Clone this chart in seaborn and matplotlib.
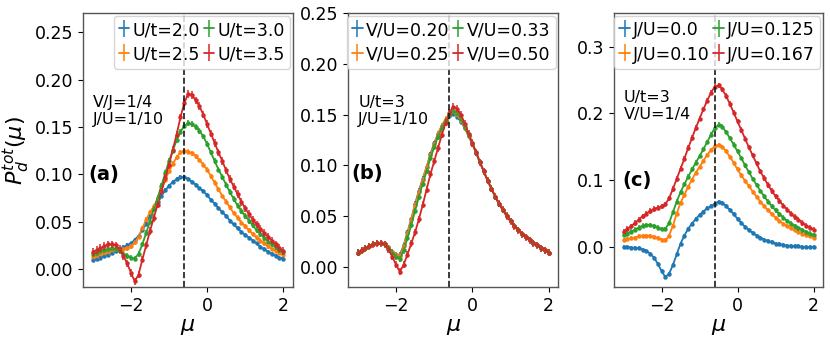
import numpy as np
import pandas as pd
import matplotlib
matplotlib.use("Agg")
import matplotlib.pyplot as plt
import seaborn as sns
from matplotlib.lines import Line2D
from matplotlib.legend_handler import HandlerTuple

# ---------------- data ----------------
mu = np.round(np.arange(-3.0, 2.0001, 0.1), 1)

# panel (a): V/J=1/4, J/U=1/10
labels_a = ["U/t=2.0", "U/t=2.5", "U/t=3.0", "U/t=3.5"]
a_u20 = [0.010, 0.011, 0.012, 0.014, 0.015, 0.017, 0.019, 0.021, 0.023, 0.025,
         0.027, 0.031, 0.035, 0.041, 0.048, 0.056, 0.064, 0.071, 0.077, 0.083,
         0.088, 0.092, 0.095, 0.097, 0.097, 0.095, 0.092, 0.089, 0.085, 0.082,
         0.078, 0.073, 0.069, 0.064, 0.060, 0.056, 0.051, 0.047, 0.043, 0.039,
         0.036, 0.033, 0.030, 0.027, 0.023, 0.021, 0.018, 0.016, 0.014, 0.012, 0.011]
a_u25 = [0.013, 0.014, 0.016, 0.017, 0.018, 0.020, 0.021, 0.021, 0.021, 0.022,
         0.024, 0.028, 0.034, 0.043, 0.052, 0.060, 0.066, 0.074, 0.083, 0.094,
         0.103, 0.111, 0.118, 0.123, 0.125, 0.124, 0.122, 0.119, 0.115, 0.110,
         0.105, 0.098, 0.091, 0.084, 0.077, 0.071, 0.065, 0.059, 0.054, 0.049,
         0.045, 0.041, 0.037, 0.033, 0.030, 0.027, 0.024, 0.021, 0.019, 0.017, 0.015]
a_u30 = [0.016, 0.017, 0.019, 0.020, 0.021, 0.022, 0.021, 0.019, 0.016, 0.014,
         0.012, 0.011, 0.016, 0.026, 0.038, 0.050, 0.063, 0.075, 0.088, 0.101,
         0.114, 0.125, 0.136, 0.145, 0.151, 0.154, 0.153, 0.150, 0.146, 0.140,
         0.132, 0.123, 0.114, 0.105, 0.097, 0.089, 0.081, 0.074, 0.067, 0.061,
         0.056, 0.051, 0.046, 0.041, 0.037, 0.033, 0.029, 0.026, 0.023, 0.020, 0.018]
a_u35 = [0.018, 0.020, 0.022, 0.024, 0.026, 0.026, 0.025, 0.021, 0.014, 0.006,
         -0.004, -0.013, -0.006, 0.010, 0.025, 0.040, 0.054, 0.068, 0.082, 0.096,
         0.110, 0.126, 0.142, 0.160, 0.175, 0.185, 0.184, 0.178, 0.172, 0.163,
         0.153, 0.143, 0.133, 0.123, 0.114, 0.104, 0.095, 0.087, 0.079, 0.071,
         0.064, 0.058, 0.052, 0.047, 0.042, 0.038, 0.034, 0.030, 0.026, 0.022, 0.019]
err_a = [0.002, 0.0025, 0.003, 0.004]

# panel (b): U/t=3, J/U=1/10
labels_b = ["V/U=0.20", "V/U=0.25", "V/U=0.33", "V/U=0.50"]
b_v20 = [0.014, 0.016, 0.018, 0.020, 0.022, 0.023, 0.023, 0.022, 0.019, 0.015,
         0.012, 0.012, 0.021, 0.034, 0.047, 0.062, 0.075, 0.087, 0.098, 0.111,
         0.122, 0.131, 0.139, 0.145, 0.149, 0.151, 0.148, 0.143, 0.137, 0.129,
         0.121, 0.112, 0.103, 0.094, 0.085, 0.077, 0.069, 0.062, 0.056, 0.050,
         0.045, 0.040, 0.036, 0.032, 0.029, 0.026, 0.023, 0.021, 0.018, 0.016, 0.014]
b_v25 = [0.014, 0.016, 0.018, 0.020, 0.022, 0.023, 0.023, 0.022, 0.019, 0.015,
         0.012, 0.011, 0.020, 0.033, 0.047, 0.061, 0.074, 0.086, 0.098, 0.110,
         0.121, 0.131, 0.139, 0.146, 0.150, 0.153, 0.150, 0.144, 0.137, 0.129,
         0.121, 0.112, 0.103, 0.094, 0.085, 0.077, 0.069, 0.062, 0.056, 0.050,
         0.045, 0.040, 0.036, 0.032, 0.029, 0.026, 0.023, 0.021, 0.018, 0.016, 0.014]
b_v33 = [0.014, 0.016, 0.018, 0.020, 0.022, 0.023, 0.023, 0.022, 0.018, 0.014,
         0.010, 0.008, 0.016, 0.028, 0.041, 0.055, 0.069, 0.082, 0.094, 0.107,
         0.118, 0.128, 0.137, 0.144, 0.150, 0.154, 0.152, 0.146, 0.138, 0.130,
         0.122, 0.112, 0.103, 0.094, 0.085, 0.077, 0.069, 0.062, 0.056, 0.050,
         0.045, 0.040, 0.036, 0.032, 0.029, 0.026, 0.023, 0.021, 0.018, 0.016, 0.014]
b_v50 = [0.014, 0.016, 0.018, 0.020, 0.022, 0.023, 0.023, 0.022, 0.017, 0.010,
         0.002, -0.005, 0.002, 0.012, 0.023, 0.034, 0.047, 0.061, 0.076, 0.091,
         0.104, 0.117, 0.130, 0.142, 0.152, 0.158, 0.156, 0.150, 0.141, 0.131,
         0.122, 0.113, 0.103, 0.094, 0.085, 0.077, 0.069, 0.062, 0.056, 0.050,
         0.045, 0.040, 0.036, 0.032, 0.029, 0.026, 0.023, 0.021, 0.018, 0.016, 0.014]
err_b = [0.0025, 0.0025, 0.003, 0.0035]

# panel (c): U/t=3, V/U=1/4
labels_c = ["J/U=0.0", "J/U=0.10", "J/U=0.125", "J/U=0.167"]
c_j000 = [0.000, 0.000, -0.001, -0.001, -0.002, -0.004, -0.006, -0.010, -0.016, -0.025,
          -0.036, -0.045, -0.040, -0.027, -0.011, 0.005, 0.017, 0.027, 0.035, 0.042,
          0.048, 0.053, 0.058, 0.061, 0.065, 0.068, 0.066, 0.061, 0.055, 0.049,
          0.042, 0.036, 0.030, 0.025, 0.021, 0.017, 0.014, 0.011, 0.009, 0.007,
          0.005, 0.004, 0.003, 0.002, 0.002, 0.001, 0.001, 0.000, 0.000, 0.000, 0.000]
c_j010 = [0.011, 0.012, 0.013, 0.014, 0.016, 0.017, 0.017, 0.017, 0.015, 0.013,
          0.011, 0.010, 0.017, 0.032, 0.050, 0.066, 0.078, 0.090, 0.101, 0.111,
          0.120, 0.129, 0.138, 0.145, 0.151, 0.153, 0.150, 0.143, 0.135, 0.126,
          0.116, 0.107, 0.099, 0.091, 0.083, 0.075, 0.068, 0.061, 0.055, 0.049,
          0.044, 0.039, 0.035, 0.031, 0.028, 0.025, 0.022, 0.020, 0.018, 0.016, 0.014]
c_j125 = [0.018, 0.020, 0.023, 0.026, 0.029, 0.032, 0.033, 0.033, 0.031, 0.029,
          0.027, 0.027, 0.036, 0.052, 0.068, 0.082, 0.094, 0.105, 0.116, 0.126,
          0.136, 0.146, 0.157, 0.168, 0.178, 0.183, 0.180, 0.172, 0.163, 0.153,
          0.143, 0.133, 0.122, 0.112, 0.102, 0.093, 0.084, 0.076, 0.068, 0.061,
          0.055, 0.049, 0.044, 0.039, 0.035, 0.031, 0.028, 0.025, 0.022, 0.020, 0.018]
c_j167 = [0.023, 0.027, 0.031, 0.036, 0.041, 0.046, 0.050, 0.054, 0.057, 0.059,
          0.061, 0.064, 0.073, 0.087, 0.102, 0.117, 0.132, 0.148, 0.163, 0.178,
          0.192, 0.206, 0.219, 0.231, 0.240, 0.242, 0.236, 0.226, 0.214, 0.201,
          0.188, 0.175, 0.162, 0.149, 0.137, 0.125, 0.113, 0.103, 0.093, 0.084,
          0.076, 0.069, 0.062, 0.056, 0.050, 0.045, 0.041, 0.036, 0.032, 0.029, 0.026]
err_c = [0.003, 0.003, 0.0035, 0.004]

panels = [
    dict(series=[a_u20, a_u25, a_u30, a_u35], labels=labels_a, err=err_a,
         note="V/J=1/4\nJ/U=1/10", tag="(a)", ylim=(-0.019, 0.27),
         yticks=[0.00, 0.05, 0.10, 0.15, 0.20, 0.25], yfmt="{:.2f}",
         note_xy=(0.045, 0.70), tag_xy=(0.025, 0.41)),
    dict(series=[b_v20, b_v25, b_v33, b_v50], labels=labels_b, err=err_b,
         note="U/t=3\nJ/U=1/10", tag="(b)", ylim=(-0.020, 0.25),
         yticks=[0.00, 0.05, 0.10, 0.15, 0.20, 0.25], yfmt="{:.2f}",
         note_xy=(0.048, 0.70), tag_xy=(0.016, 0.415)),
    dict(series=[c_j000, c_j010, c_j125, c_j167], labels=labels_c, err=err_c,
         note="U/t=3\nV/U=1/4", tag="(c)", ylim=(-0.06, 0.35),
         yticks=[0.0, 0.1, 0.2, 0.3], yfmt="{:.1f}",
         note_xy=(0.045, 0.72), tag_xy=(0.042, 0.39)),
]

# ---------------- style ----------------
sns.set_theme(style="ticks")
plt.rcParams["font.family"] = ["DejaVu Sans"]
plt.rcParams["mathtext.fontset"] = "dejavusans"
plt.rcParams["text.color"] = "black"
plt.rcParams["axes.labelcolor"] = "black"
plt.rcParams["xtick.color"] = "black"
plt.rcParams["ytick.color"] = "black"
colors = sns.color_palette("tab10", 4)

fig = plt.figure(figsize=(8.3, 3.43), dpi=100)
positions = [
    [0.1004, 0.1633, 0.2523, 0.798],
    [0.4196, 0.1633, 0.2530, 0.798],
    [0.7398, 0.1633, 0.2518, 0.798],
]

for i, (p, pos) in enumerate(zip(panels, positions)):
    ax = fig.add_axes(pos)
    df = pd.DataFrame({
        "mu": np.tile(mu, 4),
        "P": np.concatenate([np.asarray(s, float) for s in p["series"]]),
        "lab": np.repeat(p["labels"], len(mu)),
    })
    sns.lineplot(data=df, x="mu", y="P", hue="lab", hue_order=p["labels"],
                 palette=colors, marker="o", markersize=3.2, markeredgewidth=0,
                 linewidth=1.3, legend=False, ax=ax, errorbar=None)
    handles = []
    for k, (s, lab) in enumerate(zip(p["series"], p["labels"])):
        cont = ax.errorbar(mu, s, yerr=p["err"][k], fmt="none",
                           ecolor=colors[k], elinewidth=1.1, capsize=0)
        handles.append((Line2D([], [], color=colors[k], lw=1.3), cont))
    ax.axvline(-0.6, color="k", ls="--", lw=1.2)

    ax.set_xlim(-3.25, 2.25)
    ax.set_ylim(*p["ylim"])
    ax.set_xticks([-2, 0, 2])
    ax.set_xticklabels(["\u22122", "0", "2"])
    ax.set_yticks(p["yticks"])
    ax.set_yticklabels([p["yfmt"].format(v) for v in p["yticks"]])
    ax.tick_params(labelsize=12.5, length=3.5, width=0.8, colors="black")
    for sp in ax.spines.values():
        sp.set_color("#555555")
        sp.set_linewidth(1.0)
    ax.set_xlabel(r"$\mu$", fontsize=16, labelpad=2, color="black")
    if i == 0:
        ax.set_ylabel(r"$P_d^{tot}(\mu)$", fontsize=16, labelpad=2, color="black")
    else:
        ax.set_ylabel("")

    ax.text(p["note_xy"][0], p["note_xy"][1], p["note"], transform=ax.transAxes,
            fontsize=11.5, va="top", ha="left", linespacing=1.15, color="black")
    ax.text(p["tag_xy"][0], p["tag_xy"][1], p["tag"], transform=ax.transAxes,
            fontsize=14, fontweight="bold", va="center", ha="left", color="black")

    leg = ax.legend(handles=handles, labels=p["labels"], ncol=2, loc="upper right",
                    fontsize=12.5, handlelength=0.6, handleheight=1.1,
                    handletextpad=0.2, columnspacing=0.2, borderpad=0.3,
                    labelspacing=0.35, borderaxespad=0.15, frameon=True,
                    fancybox=True, handler_map={tuple: HandlerTuple(ndivide=1)})
    for t in leg.get_texts():
        t.set_color("black")

fig.savefig("out.png", dpi=100)
